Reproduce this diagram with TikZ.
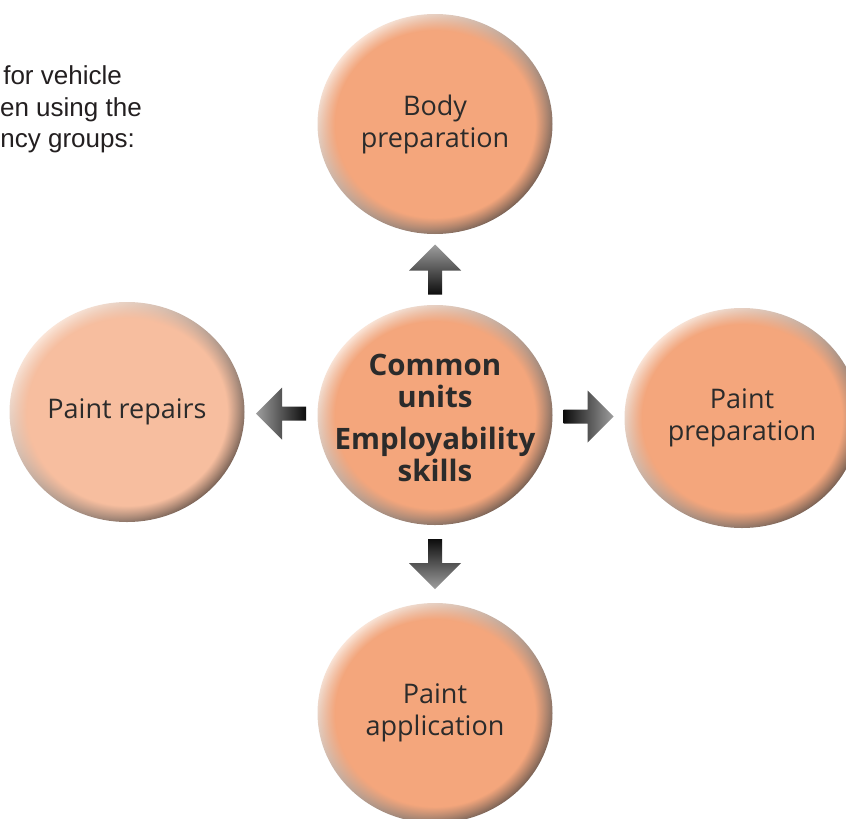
\documentclass[tikz,border=0pt]{standalone}
\usepackage{fontspec}
\setmainfont{Open Sans}
\newfontfamily\introfont{Liberation Sans}
\usetikzlibrary{calc,fadings,shapes.geometric}
\definecolor{bodyC}{HTML}{F4A67C}
\definecolor{paleC}{HTML}{F7BE9F}
\definecolor{hlC}{HTML}{FBE6D9}
\definecolor{dkC}{HTML}{745E52}
\definecolor{txtC}{HTML}{2B2B2B}
\definecolor{introC}{HTML}{231F20}
\pgfdeclareradialshading{discfadeshade}{\pgfpointorigin}{color(0bp)=(pgftransparent!0); color(21.2bp)=(pgftransparent!0); color(25bp)=(pgftransparent!100); color(50bp)=(pgftransparent!100)}
\pgfdeclarefading{discfade}{\pgfuseshading{discfadeshade}}
% #1 centre coordinate, #2 body colour
\newcommand\discbody[2]{%
  \begin{scope}
    \clip (#1) ellipse [x radius=117.5, y radius=110];
    \shade[top color=hlC, middle color=#2, bottom color=dkC, shading angle=45]
      (#1) ellipse [x radius=117.5, y radius=110];
    \fill[#2, path fading=discfade] (#1) ellipse [x radius=117.5, y radius=110];
  \end{scope}}
\tikzset{
  disctext/.style={ellipse, minimum width=235, minimum height=220, inner sep=0,
    align=center, text=txtC, font=\fontsize{27}{32}\selectfont},
  boldtext/.style={disctext, font=\fontsize{29.5}{32}\selectfont\bfseries},
  introline/.style={anchor=base east, inner sep=0, text=introC,
    font=\introfont\fontsize{26}{31}\selectfont},
  arrowsh/.style={top color=black!38, middle color=black!82, bottom color=black!95}
}
\begin{document}
\begin{tikzpicture}[x=1pt, y=1pt]
\clip (0,0) rectangle (846,-819);
\fill[white] (0,0) rectangle (846,-819);
% intro text (clipped at the left edge)
\node[introline] (l1) at (122,-84) {for vehicle};
\node[introline] (l2) at (142,-116) {en using the};
\node[introline] (l3) at (135,-147) {ncy groups:};
% circle centres
\coordinate (cC) at (435,-415);
\coordinate (cT) at (435,-124);
\coordinate (cB) at (435,-713);
\coordinate (cL) at (127,-412);
\coordinate (cR) at (742,-418);
\discbody{cC}{bodyC}
\discbody{cT}{bodyC}
\discbody{cB}{bodyC}
\discbody{cL}{paleC}
\discbody{cR}{bodyC}
% texts
\node[boldtext] (centre) at ([yshift=-3]cC) {Common\\units\\[10pt]Employability\\skills};
\node[disctext] (body) at (cT) {Body\\preparation};
\node[disctext] (appl) at (cB) {Paint\\application};
\node[disctext] (repair) at (cL) {Paint repairs};
\node[disctext] (prep) at (cR) {Paint\\preparation};
% arrow positions
\coordinate (aU) at ($(cC)!0.5!(cT)$);
\coordinate (aD) at ($(cC)!0.5!(cB)$);
\coordinate (aL) at ($(cC)!0.5!(cL)$);
\coordinate (aR) at ($(cC)!0.5!(cR)$);
\begin{scope}[shift={(aU)}]
  \shade[arrowsh, shading angle=0] (-7,-25) -- (-7,-1) -- (-26,-1) -- (0,25) -- (26,-1) -- (7,-1) -- (7,-25) -- cycle;
\end{scope}
\begin{scope}[shift={(aD)}]
  \shade[arrowsh, shading angle=180] (-7,25) -- (-7,1) -- (-26,1) -- (0,-25) -- (26,1) -- (7,1) -- (7,25) -- cycle;
\end{scope}
\begin{scope}[shift={(aR)}]
  \shade[arrowsh, shading angle=-90] (-25,-7) -- (-1,-7) -- (-1,-26) -- (25,0) -- (-1,26) -- (-1,7) -- (-25,7) -- cycle;
\end{scope}
\begin{scope}[shift={(aL)}]
  \shade[arrowsh, shading angle=90] (25,-7) -- (1,-7) -- (1,-26) -- (-25,0) -- (1,26) -- (1,7) -- (25,7) -- cycle;
\end{scope}
\end{tikzpicture}
\end{document}
